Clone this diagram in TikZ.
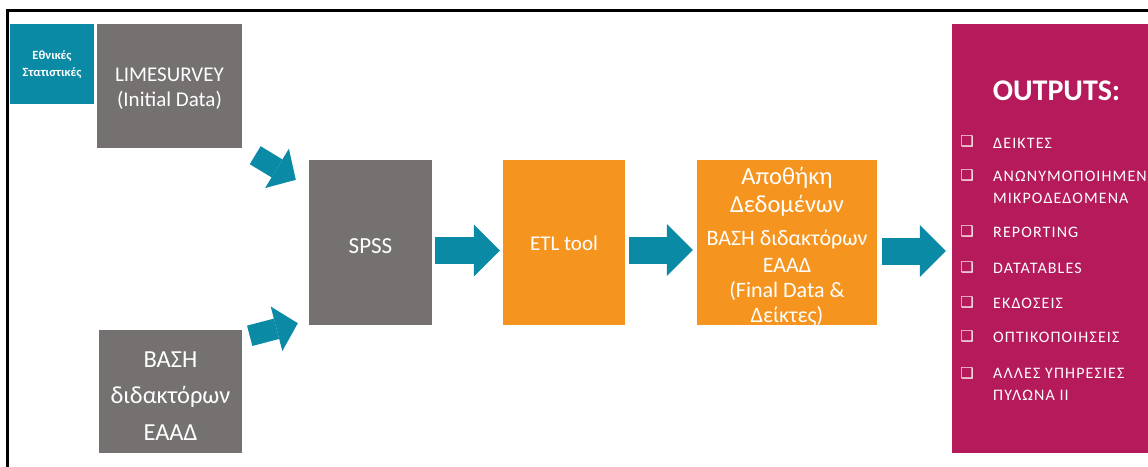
\documentclass[tikz,border=0pt]{standalone}
\usepackage{fontspec}
\setmainfont{Carlito}
\newfontfamily\symfont{DejaVu Sans}
\newfontfamily\spacedfont[LetterSpace=7]{Carlito}
\usetikzlibrary{arrows.meta,calc}
\definecolor{tealc}{HTML}{0B8AA6}
\definecolor{grayc}{HTML}{767171}
\definecolor{orangec}{HTML}{F5951F}
\definecolor{magc}{HTML}{B51A5B}
\begin{document}
\begin{tikzpicture}[x=1pt,y=-1pt,
  box/.style={rectangle, inner sep=0pt},
  boxtext/.style={text=white, align=center, inner sep=0pt},
  bigarrow/.style={draw=tealc, line width=27pt, -{Triangle[length=26pt,width=52pt,line width=0pt]}},
  diagarrow/.style={draw=tealc, line width=21pt, -{Triangle[length=22pt,width=46pt,line width=0pt]}},
  item/.style={anchor=west, text=white, inner sep=0pt, align=left, font=\spacedfont\fontsize{16}{22}\selectfont},
  chk/.style={text=white, inner sep=0pt, font=\symfont\fontsize{15}{15}\selectfont}]
\useasboundingbox (0,0) rectangle (1148,466);
\clip (0,0) rectangle (1148,466);
\fill[white] (0,0) rectangle (1148,466);
\draw[line width=3pt] (1160,10.5) -- (7.5,10.5) -- (7.5,480);

\node[box, fill=tealc, minimum width=84pt, minimum height=80pt,
  label={[name=statt, boxtext, yshift=0pt, font=\bfseries\fontsize{12.5}{17}\selectfont]center:Εθνικές\\Στατιστικές}] (stat) at (52,64) {};
\node[box, fill=grayc, minimum width=145pt, minimum height=124pt,
  label={[name=limet, boxtext, yshift=-3pt, font=\fontsize{21}{25}\selectfont]center:LIMESURVEY\\(Initial Data)}] (lime) at (169.5,86) {};
\node[box, fill=grayc, minimum width=123pt, minimum height=165pt,
  label={[name=spsst, boxtext, yshift=-4pt, font=\fontsize{23}{26}\selectfont]center:SPSS}] (spss) at (370.5,242.5) {};
\node[box, fill=orangec, minimum width=122pt, minimum height=165pt,
  label={[name=etlt, boxtext, yshift=-1pt, font=\fontsize{21}{25}\selectfont]center:ETL tool}] (etl) at (564,242.5) {};
\node[box, fill=orangec, minimum width=180pt, minimum height=165pt,
  label={[name=apot, boxtext, yshift=-4pt, font=\fontsize{22}{25}\selectfont]center:{\fontsize{24.5}{28}\selectfont Αποθήκη}\\[3pt]{\fontsize{24.5}{28}\selectfont Δεδομένων}\\[8pt]ΒΑΣΗ διδακτόρων\\[2pt]ΕΑΑΔ\\(Final Data \&\\Δείκτες)}] (apo) at (787,242.5) {};
\node[box, fill=grayc, minimum width=143pt, minimum height=123pt,
  label={[name=basit, boxtext, yshift=-4.5pt, font=\fontsize{24.5}{36.5}\selectfont]center:ΒΑΣΗ\\διδακτόρων\\ΕΑΑΔ}] (basi) at (170.5,391.5) {};
\node[box, fill=magc, minimum width=210pt, minimum height=429pt] (out) at (1057,238.5) {};

\node[text=white, inner sep=0pt, font=\bfseries\fontsize{30}{32}\selectfont] (ttl) at (1056.5,91) {OUTPUTS:};
\node[item] (i1) at (993,143) {ΔΕΙΚΤΕΣ};
\node[item] (i2) at (993,187) {ΑΝΩΝΥΜΟΠΟΙΗΜΕΝ\\ΜΙΚΡΟΔΕΔΟΜΕΝΑ};
\node[item] (i3) at (993,232) {REPORTING};
\node[item] (i4) at (993,268) {DATATABLES};
\node[item] (i5) at (993,303) {ΕΚΔΟΣΕΙΣ};
\node[item] (i6) at (993,337) {ΟΠΤΙΚΟΠΟΙΗΣΕΙΣ};
\node[item] (i7) at (993,384) {ΑΛΛΕΣ ΥΠΗΡΕΣΙΕΣ\\ΠΥΛΩΝΑ ΙΙ};
\node[chk] (c1) at (967,141) {❑};
\node[chk] (c2) at (967,175) {❑};
\node[chk] (c3) at (967,231) {❑};
\node[chk] (c4) at (967,267) {❑};
\node[chk] (c5) at (967,302) {❑};
\node[chk] (c6) at (967,336) {❑};
\node[chk] (c7) at (967,373) {❑};

\draw[diagarrow] ($(lime.south east)+(13,7)$) -- ($(spss.north west)+(-13,20)$);
\draw[diagarrow] ($(basi.north east)+(7.5,6)$) -- ($(spss.south west)+(-11,-2)$);
\draw[bigarrow] ($(spss.east)+(3,8)$) -- ($(etl.west)+(-3,8)$);
\draw[bigarrow] ($(etl.east)+(4,7.5)$) -- ($(apo.west)+(-4,7.5)$);
\draw[bigarrow] ($(apo.east)+(5,8.5)$) -- ($(out.west)+(-6,12.5)$);
\end{tikzpicture}
\end{document}
